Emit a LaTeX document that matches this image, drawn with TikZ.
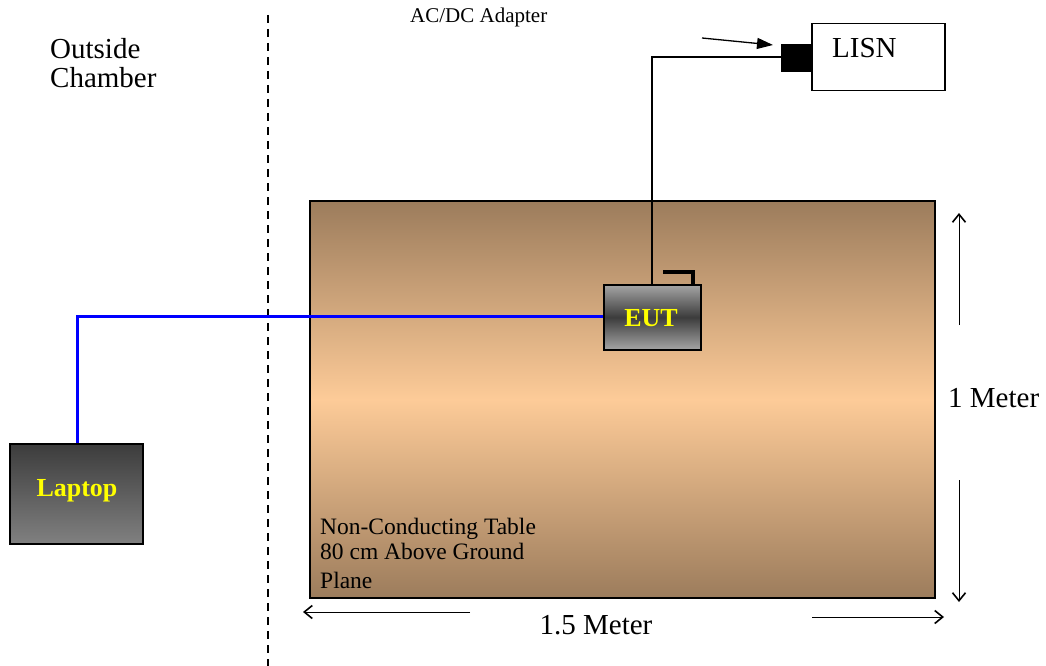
\documentclass[tikz,border=0pt]{standalone}
\usepackage{fontspec}
\setmainfont{Liberation Serif}
\usetikzlibrary{arrows.meta}
\definecolor{tabedge}{RGB}{156,124,92}
\definecolor{tabmid}{RGB}{253,203,152}
\definecolor{eutlight}{RGB}{165,165,165}
\definecolor{eutdark}{RGB}{60,60,60}
\definecolor{lapdark}{RGB}{60,60,60}
\definecolor{laplight}{RGB}{128,128,128}
\definecolor{wireblue}{RGB}{0,0,255}
\definecolor{labelyellow}{RGB}{255,255,0}
\tikzset{
  txt/.style={inner sep=0pt, font=\fontsize{29}{31}\selectfont},
  smalltxt/.style={inner sep=0pt, font=\fontsize{23.5}{25}\selectfont},
  boldlbl/.style={inner sep=0pt, text=labelyellow, font=\fontsize{26}{28}\selectfont\bfseries},
  dimarrow/.style={-{Straight Barb[length=8pt,width=13pt,line width=1.6pt]}, line width=1pt},
}
\begin{document}
\begin{tikzpicture}[x=1pt,y=-1pt]
\useasboundingbox (0,0) rectangle (1046,666);
% dashed boundary
\draw[line width=1.6pt, dash pattern=on 8pt off 6pt] (268,15) -- (268,666);
\node[txt, anchor=base west] (outside) at (50,59) {Outside};
\node[txt, anchor=base west] (chamber) at (50,88) {Chamber};
\node[inner sep=0pt, anchor=base west, font=\fontsize{21}{23}\selectfont] (adapter) at (410,23) {AC/DC Adapter};
% table
\path[top color=tabedge, bottom color=tabedge, middle color=tabmid, draw=black, line width=1.5pt]
  (310,201) rectangle (935,598);
\node[smalltxt, anchor=base west] (t1) at (320,534) {Non-Conducting Table};
\node[smalltxt, anchor=base west] (t2) at (320,559) {80 cm Above Ground};
\node[smalltxt, anchor=base west] (t3) at (320,588) {Plane};
% LISN
\node[draw, line width=1.5pt, fill=white, minimum width=133pt, minimum height=67pt, inner sep=0pt, anchor=north west] (lisn) at (811,23) {};
\node[txt, anchor=base west] (lisnlbl) at (832,58) {LISN};
\node[fill=black, minimum width=30pt, minimum height=28pt, inner sep=0pt, anchor=north east] (plug) at (811,44) {};
\coordinate (arrstart) at (702,38);
\draw[-{Triangle[length=16pt,width=11pt]}, line width=1.3pt] (arrstart) -- (773,45);
% EUT
\node[draw, line width=1.5pt, top color=eutlight, bottom color=eutlight, middle color=eutdark, minimum width=97pt, minimum height=65pt, inner sep=0pt, anchor=north west] (eut) at (603,284) {};
\node[boldlbl, anchor=base] (eutlbl) at (651,326) {EUT};
\draw[line width=4pt] (663,272) -- (693,272) -- (693,284);
\coordinate (wtop) at (652,57);
\draw[line width=1.3pt] (plug.west |- wtop) -- (wtop) -- (wtop |- eut.north);
% Laptop
\node[draw, line width=1.5pt, top color=lapdark, bottom color=laplight, minimum width=133pt, minimum height=100pt, inner sep=0pt, anchor=north west] (laptop) at (9,443) {};
\node[boldlbl, anchor=base] (laplbl) at (77,496) {Laptop};
\coordinate (bcorner) at (77,316);
\draw[wireblue, line width=3pt] (eut.west |- bcorner) -- (bcorner) -- (laptop.north -| bcorner);
% dimensions
\coordinate (v1a) at (959,325); \coordinate (v1b) at (959,213);
\coordinate (v2a) at (959,480); \coordinate (v2b) at (959,602);
\draw[dimarrow] (v1a) -- (v1b);
\draw[dimarrow] (v2a) -- (v2b);
\node[txt, anchor=base west] (onem) at (948,407) {1 Meter};
\coordinate (h1a) at (470,612); \coordinate (h1b) at (303,612);
\coordinate (h2a) at (812,617); \coordinate (h2b) at (944,617);
\draw[dimarrow] (h1a) -- (h1b);
\draw[dimarrow] (h2a) -- (h2b);
\node[txt, anchor=base] (onefive) at (596,634) {1.5 Meter};
\end{tikzpicture}
\end{document}
